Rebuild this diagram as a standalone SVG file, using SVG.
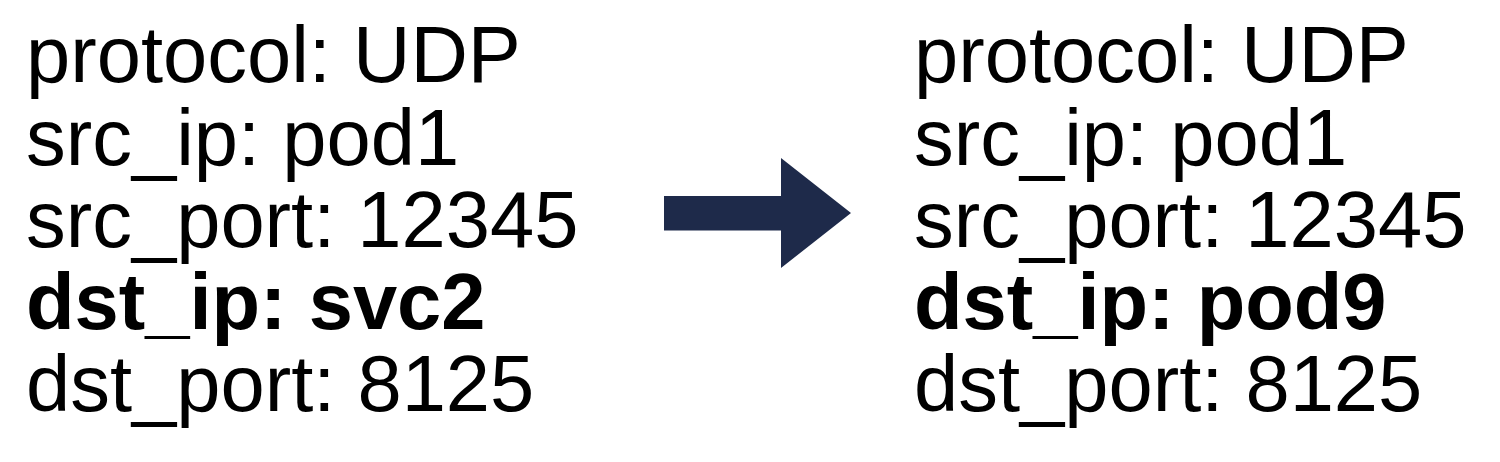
<svg xmlns="http://www.w3.org/2000/svg" width="1500" height="462" viewBox="0 0 1500 462">
<style>
.t{font-family:"Liberation Sans",Arial,sans-serif;font-size:79.5px;fill:#000}
.b{font-weight:bold}
</style>
<rect width="1500" height="462" fill="#fff"/>
<g id="before">
<text class="t" x="26" y="82">protocol: UDP</text>
<text class="t" x="26" y="164.5">src_ip: pod1</text>
<text class="t" x="26" y="247">src_port: 12345</text>
<text class="t b" x="26" y="329">dst_ip: svc2</text>
<text class="t" x="26" y="411">dst_port: 8125</text>
</g>
<g id="after">
<text class="t" x="914" y="82">protocol: UDP</text>
<text class="t" x="914" y="164.5">src_ip: pod1</text>
<text class="t" x="914" y="247">src_port: 12345</text>
<text class="t b" x="914" y="329">dst_ip: pod9</text>
<text class="t" x="914" y="411">dst_port: 8125</text>
</g>
<g id="connectors">
<polygon points="664,196 781,196 781,158 851,213 781,268 781,230.5 664,230.5" fill="#1e2a4a"/>
</g>
</svg>
